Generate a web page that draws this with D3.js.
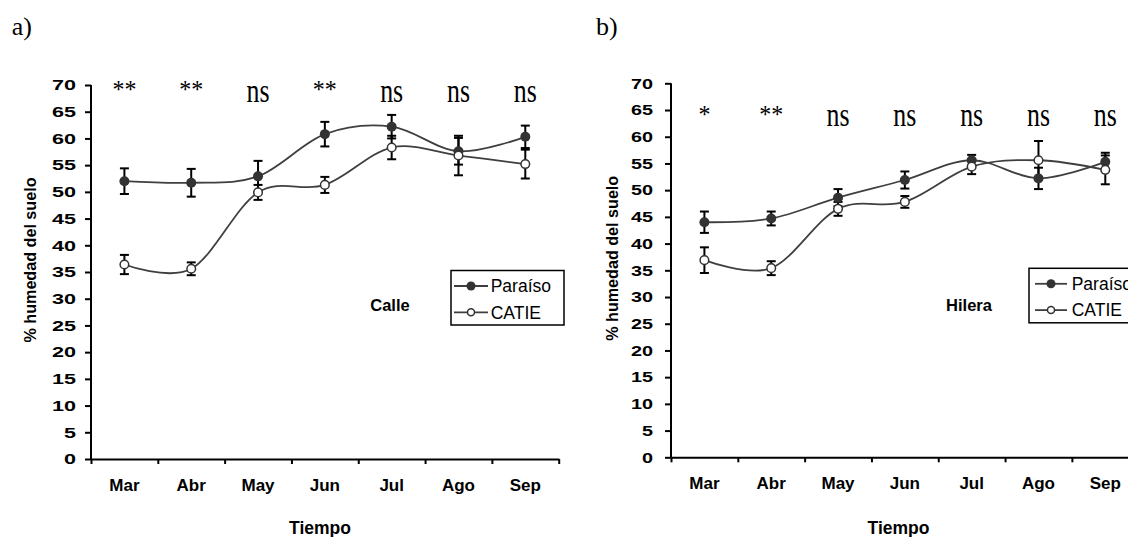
<!DOCTYPE html>
<html>
<head>
<meta charset="utf-8">
<script src="https://cdn.jsdelivr.net/npm/d3@7"></script>
<style>
  body { margin: 0; background: #fff; }
  .sans { font-family: "Liberation Sans", Arial, sans-serif; }
  .serif { font-family: "Liberation Serif", "Times New Roman", serif; }
</style>
</head>
<body>
<div id="chart"></div>
<script>
// categories
var months = ["Mar", "Abr", "May", "Jun", "Jul", "Ago", "Sep"];
var yTicks = [0, 5, 10, 15, 20, 25, 30, 35, 40, 45, 50, 55, 60, 65, 70];

// a) Calle
var calleParaiso = [52.0, 51.7, 52.9, 60.8, 62.2, 57.6, 60.3];
var calleParaisoErr = [2.4, 2.6, 2.9, 2.3, 2.2, 2.5, 2.1];
var calleCatie = [36.4, 35.6, 49.9, 51.3, 58.3, 56.8, 55.2];
var calleCatieErr = [1.8, 1.2, 1.4, 1.5, 2.2, 3.7, 2.7];
var calleSig = ["**", "**", "ns", "**", "ns", "ns", "ns"];

// b) Hilera
var hileraParaiso = [44.0, 44.7, 48.6, 51.9, 55.6, 52.2, 55.3];
var hileraParaisoErr = [2.0, 1.3, 1.6, 1.6, 1.0, 2.0, 1.7];
var hileraCatie = [36.9, 35.4, 46.5, 47.8, 54.4, 55.6, 53.8];
var hileraCatieErr = [2.4, 1.3, 1.3, 1.1, 1.4, 3.6, 2.7];
var hileraSig = ["*", "**", "ns", "ns", "ns", "ns", "ns"];

var svg = d3.select("#chart")
    .append("svg")
    .attr("width", 1128)
    .attr("height", 537);

var lineColor = "#3f3f3f";
var markColor = "#333";

function drawPanel(p) {
    var g = svg.append("g");

    var x = d3.scaleBand().domain(months).range([p.left, p.left + 467.7]);
    var xEdge = d3.scaleLinear().domain([0, 7]).range([p.left, p.left + 467.7]);
    var y = d3.scaleLinear().domain([0, 70]).range([p.bottom, p.bottom - 374]);

    // panel letter
    g.append("text")
        .attr("class", "serif")
        .attr("x", p.letterX)
        .attr("y", 35)
        .style("font-size", "26px")
        .text(p.letter);

    // y axis
    var yAxis = g.append("g")
        .attr("transform", `translate(${p.left},0)`)
        .call(d3.axisLeft(y).tickValues(yTicks).tickSize(6).tickSizeOuter(0).tickPadding(p.tickPad));
    yAxis.select(".domain").attr("stroke-width", 2).attr("d", `M0,${y(0)}V${y(70)}`);
    yAxis.selectAll(".tick line").attr("stroke-width", 2);
    yAxis.selectAll("text")
        .attr("class", "sans")
        .style("font-size", "15px")
        .style("font-weight", "bold")
        .attr("textLength", d => String(d).length * p.digitW)
        .attr("lengthAdjust", "spacingAndGlyphs");

    // x axis: ticks between categories
    var xAxis = g.append("g")
        .attr("transform", `translate(0,${p.bottom})`)
        .call(d3.axisBottom(xEdge).tickValues(d3.range(0, 8)).tickSize(5).tickSizeOuter(0).tickFormat(""));
    xAxis.select(".domain").attr("stroke-width", 2);
    xAxis.selectAll(".tick line").attr("stroke-width", 2);

    // category labels
    var xLab = g.append("g")
        .attr("transform", `translate(0,${p.bottom})`)
        .call(d3.axisBottom(x).tickSize(0).tickPadding(20));
    xLab.select(".domain").remove();
    xLab.selectAll("text")
        .attr("class", "sans")
        .style("font-size", "17px")
        .style("font-weight", "bold");

    // axis titles
    g.append("text")
        .attr("class", "sans")
        .attr("transform", `translate(${p.yTitleX},${p.bottom - 199}) rotate(-90)`)
        .attr("text-anchor", "middle")
        .attr("textLength", 165)
        .attr("lengthAdjust", "spacingAndGlyphs")
        .style("font-size", "16px")
        .style("font-weight", "bold")
        .text("% humedad del suelo");

    g.append("text")
        .attr("class", "sans")
        .attr("x", p.tiempoX)
        .attr("y", 534)
        .attr("text-anchor", "middle")
        .style("font-size", "17.5px")
        .style("font-weight", "bold")
        .text("Tiempo");

    // panel name
    g.append("text")
        .attr("class", "sans")
        .attr("x", p.nameX)
        .attr("y", 310.7)
        .attr("text-anchor", "middle")
        .style("font-size", "16.5px")
        .style("font-weight", "bold")
        .text(p.name);

    // significance labels
    g.selectAll("text.sig")
        .data(p.sig)
        .enter()
        .append("text")
        .attr("class", "sig serif")
        .attr("x", (d, i) => x(months[i]) + x.bandwidth() / 2)
        .attr("y", d => d === "ns" ? p.nsY : p.starY)
        .attr("text-anchor", "middle")
        .attr("textLength", d => d === "ns" ? 23 : d.length * 12)
        .attr("lengthAdjust", "spacingAndGlyphs")
        .style("font-size", d => d === "ns" ? "34px" : "26px")
        .text(d => d);

    var cx = (d, i) => x(months[i]) + x.bandwidth() / 2;
    var line = d3.line()
        .x((d, i) => cx(d, i))
        .y(d => y(d))
        .curve(d3.curveCardinal.tension(0));

    var series = [
        { vals: p.paraiso, err: p.paraisoErr, filled: true },
        { vals: p.catie, err: p.catieErr, filled: false }
    ];

    series.forEach(function(s) {
        g.append("path")
            .datum(s.vals)
            .attr("d", line)
            .attr("fill", "none")
            .attr("stroke", lineColor)
            .attr("stroke-width", 1.8);
    });

    // error bars
    series.forEach(function(s) {
        var eb = g.append("g").selectAll("g")
            .data(s.vals)
            .enter()
            .append("g");
        eb.append("line")
            .attr("x1", cx).attr("x2", cx)
            .attr("y1", (d, i) => y(d + s.err[i]))
            .attr("y2", (d, i) => y(d - s.err[i]));
        eb.append("line")
            .attr("x1", (d, i) => cx(d, i) - 4.5).attr("x2", (d, i) => cx(d, i) + 4.5)
            .attr("y1", (d, i) => y(d + s.err[i])).attr("y2", (d, i) => y(d + s.err[i]));
        eb.append("line")
            .attr("x1", (d, i) => cx(d, i) - 4.5).attr("x2", (d, i) => cx(d, i) + 4.5)
            .attr("y1", (d, i) => y(d - s.err[i])).attr("y2", (d, i) => y(d - s.err[i]));
        eb.selectAll("line").attr("stroke", "#000").attr("stroke-width", 2);
    });

    // markers
    series.forEach(function(s) {
        g.append("g").selectAll("circle")
            .data(s.vals)
            .enter()
            .append("circle")
            .attr("cx", cx)
            .attr("cy", d => y(d))
            .attr("r", s.filled ? 5 : 4.3)
            .attr("fill", s.filled ? markColor : "#fff")
            .attr("stroke", markColor)
            .attr("stroke-width", s.filled ? 0 : 1.5);
    });

    // legend
    var lg = g.append("g").attr("transform", `translate(${p.legX},${p.legY})`);
    lg.append("rect")
        .attr("width", 113).attr("height", 54.5)
        .attr("fill", "#fff")
        .attr("stroke", "#000")
        .attr("stroke-width", 1.5);
    [["Paraíso", true, 15.5], ["CATIE", false, 41.8]].forEach(function(it) {
        lg.append("line")
            .attr("x1", p.legLine0).attr("x2", p.legLine0 + p.legLine)
            .attr("y1", it[2]).attr("y2", it[2])
            .attr("stroke", lineColor).attr("stroke-width", 1.8);
        lg.append("circle")
            .attr("cx", p.legLine0 + p.legLine / 2).attr("cy", it[2])
            .attr("r", it[1] ? 4.5 : 3.5)
            .attr("fill", it[1] ? markColor : "#fff")
            .attr("stroke", markColor)
            .attr("stroke-width", it[1] ? 0 : 1.5);
        lg.append("text")
            .attr("class", "sans")
            .attr("x", p.legText)
            .attr("y", it[2] + 6.3)
            .style("font-size", "17.5px")
            .text(it[0]);
    });
}

drawPanel({
    letter: "a)", letterX: 11.7, left: 91, bottom: 459, tickPad: 9, digitW: 12,
    yTitleX: 36, tiempoX: 320, name: "Calle", nameX: 390,
    nsY: 101.7, starY: 98, sig: calleSig,
    paraiso: calleParaiso, paraisoErr: calleParaisoErr,
    catie: calleCatie, catieErr: calleCatieErr,
    legX: 451, legY: 270.5, legLine0: 3, legLine: 34, legText: 39.7
});

drawPanel({
    letter: "b)", letterX: 596, left: 671, bottom: 457.3, tickPad: 12, digitW: 11,
    yTitleX: 618, tiempoX: 898.5, name: "Hilera", nameX: 969,
    nsY: 125.7, starY: 122.7, sig: hileraSig,
    paraiso: hileraParaiso, paraisoErr: hileraParaisoErr,
    catie: hileraCatie, catieErr: hileraCatieErr,
    legX: 1029, legY: 268.3, legLine0: 6, legLine: 32, legText: 42.7
});
</script>
</body>
</html>
